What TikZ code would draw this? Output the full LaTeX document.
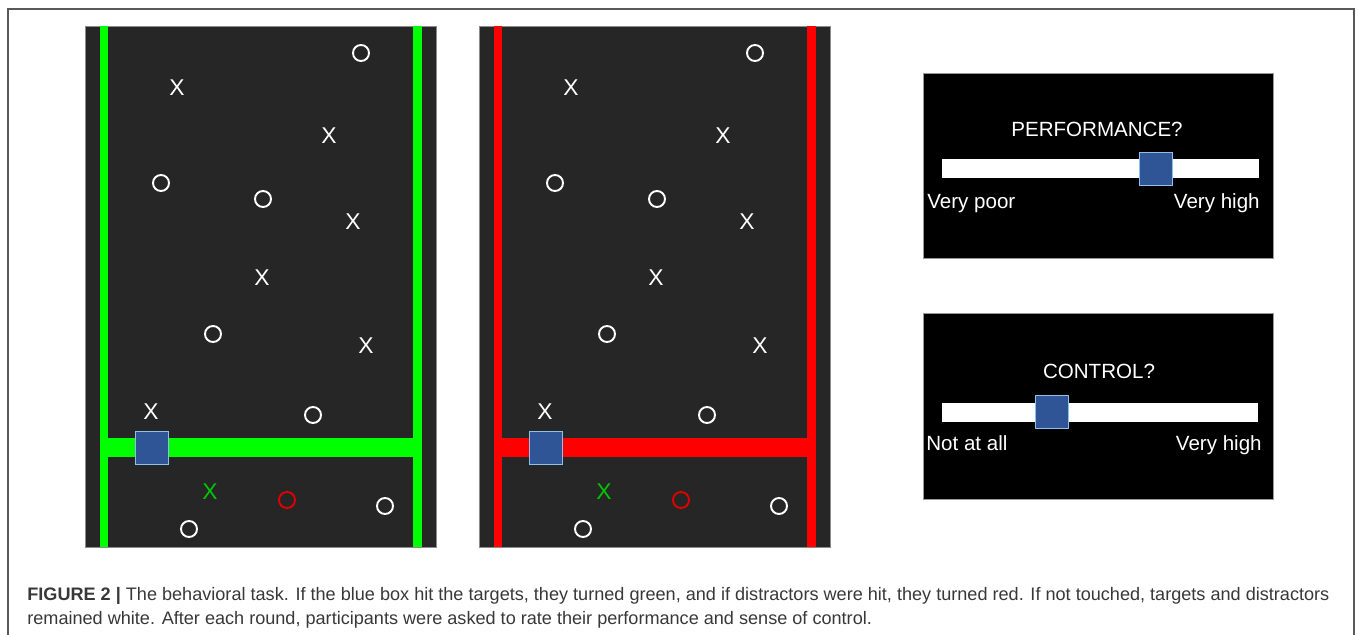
\documentclass[tikz,border=0pt]{standalone}
\usepackage{xcolor}
\usepackage{fontspec}
\setmainfont{Liberation Sans}
\usetikzlibrary{positioning}

\definecolor{panelbg}{HTML}{262626}
\definecolor{hitgreen}{HTML}{00FF00}
\definecolor{xgreen}{HTML}{00C800}
\definecolor{hitred}{HTML}{FF0000}
\definecolor{ored}{HTML}{E00000}
\definecolor{boxblue}{HTML}{2F5597}
\definecolor{boxedge}{HTML}{8FC1E8}
\definecolor{captext}{HTML}{383838}

\begin{document}
\begin{tikzpicture}[
  x=0.02cm, y=-0.02cm,
  xmark/.style={inner sep=0, text=white, font=\fontsize{13}{15}\selectfont},
  omark/.style={circle, draw=white, line width=1.1pt, minimum size=0.32cm, inner sep=0},
  cursor/.style={draw=boxedge, fill=boxblue, line width=0.8pt, minimum size=0.65cm, inner sep=0},
  qlabel/.style={inner sep=0, text=white, font=\fontsize{11.7}{14}\selectfont},
  caption/.style={inner sep=0, text=captext, font=\fontsize{10.3}{13.7}\selectfont}
]
  \useasboundingbox (0,0) rectangle (1358,635);
  \draw[black!65, line width=0.6pt] (8,640) -- (8,9) -- (1354,9) -- (1354,640);

  % the two task screens
  \foreach \dx/\bar/\tag in {0/hitgreen/g, 394/hitred/r} {
    \begin{scope}[xshift=\dx*0.02cm]
      \draw[black!45, line width=0.4pt, fill=panelbg] (85,26) rectangle (436,547);
      \fill[\bar] (100,26) rectangle (108,547);
      \fill[\bar] (413,26) rectangle (422,547);
      \fill[\bar] (100,438) rectangle (422,457);
      \node[cursor] (cursor\tag) at (152,448) {};
      \foreach \sx/\sy [count=\i] in {177/88, 329/136, 353/222, 262/278, 366/346, 151/412}
        \node[xmark] (x\tag\i) at (\sx,\sy) {X};
      \foreach \sx/\sy [count=\i] in {361/53, 161/183, 263/199, 213/334, 313/415, 385/506, 189/529}
        \node[omark] (o\tag\i) at (\sx,\sy) {};
      \node[xmark, text=xgreen] (xhit\tag) at (210,492) {X};
      \node[omark, draw=ored] (ohit\tag) at (287,500) {};
    \end{scope}
  }

  % rating screens
  \draw[black!40, line width=0.4pt, fill=black] (923,73) rectangle (1273,258);
  \fill[white] (942,159) rectangle (1259,178);
  \node[cursor] (perfknob) at (1156,169) {};
  \node[qlabel, anchor=base] (perfq) at (1097,136) {PERFORMANCE?};
  \node[qlabel, anchor=base west] (perflo) at (927,208) {Very poor};
  \node[qlabel, anchor=base east] (perfhi) at (1260,208) {Very high};

  \draw[black!40, line width=0.4pt, fill=black] (923,313) rectangle (1273,499);
  \fill[white] (942,403) rectangle (1258,422);
  \node[cursor] (ctrlknob) at (1052,412) {};
  \node[qlabel, anchor=base] (ctrlq) at (1099,378) {CONTROL?};
  \node[qlabel, anchor=base west] (ctrllo) at (926,450) {Not at all};
  \node[qlabel, anchor=base east] (ctrlhi) at (1262,450) {Very high};

  % caption
  \node[caption, anchor=base west] (cap1) at (27,600) {\textbf{FIGURE 2 |} The behavioral task. If the blue box hit the targets, they turned green, and if distractors were hit, they turned red. If not touched, targets and distractors};
  \node[caption, anchor=base west] (cap2) at (27,624) {remained white. After each round, participants were asked to rate their performance and sense of control.};
\end{tikzpicture}
\end{document}
